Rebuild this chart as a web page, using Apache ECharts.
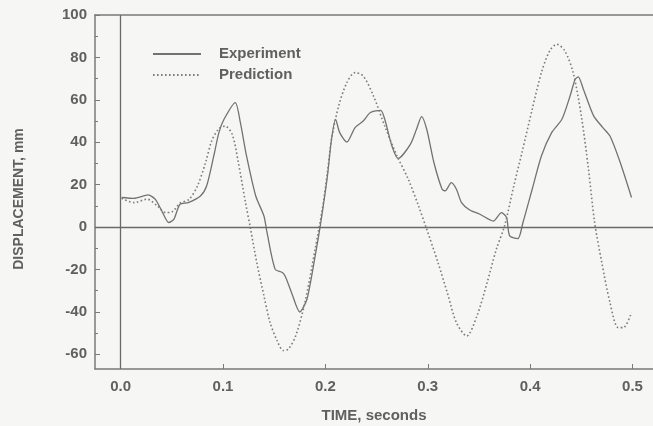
<!DOCTYPE html>
<html>
<head>
<meta charset="utf-8">
<script src="https://cdn.jsdelivr.net/npm/echarts@6/dist/echarts.min.js"></script>
<style>
html,body{margin:0;padding:0;background:#f6f6f4;}
#c{width:653px;height:426px;}
</style>
</head>
<body>
<div id="c"></div>
<script>
// Experiment (solid)
var expT = [0.001,0.013,0.027,0.034,0.041,0.047,0.052,0.058,0.066,0.078,0.084,0.091,0.096,0.101,0.112,0.117,0.123,0.132,0.140,0.143,0.151,0.158,0.161,0.167,0.175,0.182,0.190,0.195,0.202,0.206,0.210,0.214,0.221,0.229,0.237,0.244,0.254,0.258,0.265,0.271,0.283,0.289,0.294,0.299,0.306,0.314,0.317,0.323,0.328,0.333,0.341,0.351,0.364,0.372,0.377,0.380,0.388,0.393,0.402,0.411,0.421,0.431,0.439,0.444,0.447,0.452,0.462,0.471,0.478,0.488,0.499];
var expV = [13.9,13.5,15.1,13,6.8,2.1,3.6,10.7,11.5,14.6,19.3,33.5,44.5,50.8,58.7,49.2,33.5,14.6,5.2,-2.6,-20,-21.5,-23.5,-31,-40.1,-34.1,-13.7,0.5,24,41.4,50.8,44.5,40.1,46.9,50,54,55,50.8,38.2,32.3,39,46.1,52.1,46.1,30.4,17.8,17,20.9,17.8,11.5,8,6,2.8,6.8,4.4,-4.2,-5.5,2.1,17.8,33.5,44.5,50.8,61.8,69.7,70.8,65,52.4,46.9,42.9,30.4,13.9];
// Prediction (dotted)
var predT = [0.001,0.013,0.026,0.036,0.044,0.050,0.058,0.067,0.075,0.083,0.089,0.096,0.102,0.109,0.115,0.122,0.127,0.133,0.140,0.146,0.153,0.159,0.164,0.171,0.180,0.190,0.197,0.202,0.206,0.213,0.221,0.229,0.237,0.247,0.258,0.270,0.281,0.291,0.299,0.310,0.320,0.328,0.338,0.348,0.358,0.367,0.375,0.384,0.392,0.402,0.411,0.419,0.426,0.434,0.442,0.450,0.457,0.463,0.470,0.478,0.486,0.491,0.499];
var predV = [13.5,11.5,13.1,9.9,6.8,7.1,11.2,13.1,19.3,30.4,40.6,46.4,47.6,43.7,30.4,11.5,-1.1,-16.8,-32.5,-45.1,-53.8,-58.3,-57.5,-51.4,-35.7,-10.5,8.3,25.7,41.4,57.1,68.1,72.8,71.2,61.8,47.6,33.5,22.5,9.9,-1.1,-16.8,-32.5,-45.1,-51.4,-42,-26.2,-10.5,0.5,19.3,35.1,55.5,72.8,83,86.2,83,72.8,52.4,27.2,2.1,-16.8,-35.7,-47.5,-47.5,-40.4];
var xTicks = [0,0.1,0.2,0.3,0.4,0.5];
var yTicks = [-60,-40,-20,0,20,40,60,80,100];
var yMinorTicks = [-50,-30,-10,10,30,50,70,90];
var seriesNames = ['Experiment','Prediction'];

function pairs(t,v){var r=[];for(var i=0;i<t.length;i++)r.push([t[i],v[i]]);return r;}

var axisCol = '#7a7a7a';
var txtCol = '#606060';
var fam = 'Liberation Sans, Arial, sans-serif';
var labelStyle = {color:txtCol,fontFamily:fam,fontSize:15,fontWeight:'bold'};

var chart = echarts.init(document.getElementById('c'), null, {renderer:'canvas'});
chart.setOption({
  backgroundColor:'#f6f6f4',
  animation:false,
  grid:{left:95,top:15,right:0,bottom:57,containLabel:false,outerBoundsMode:'none'},
  legend:{
    orient:'vertical', left:147, top:41, itemWidth:48, itemHeight:16, itemGap:5,
    itemStyle:{opacity:0},
    textStyle:{color:txtCol,fontFamily:fam,fontSize:15,fontWeight:'bold',lineHeight:16,padding:[0,0,0,13]},
    data:seriesNames
  },
  xAxis:[{
    type:'value', min:-0.025, max:0.52, position:'bottom',
    name:'TIME, seconds', nameLocation:'middle', nameGap:39,
    nameTextStyle:{color:txtCol,fontFamily:fam,fontSize:15,fontWeight:'bold'},
    axisLine:{show:true,onZero:false,lineStyle:{color:axisCol,width:1.5}},
    axisTick:{show:true,inside:true,length:5,customValues:xTicks,lineStyle:{color:axisCol}},
    axisLabel:Object.assign({margin:10,customValues:xTicks,formatter:function(v){return v.toFixed(1);}},labelStyle),
    splitLine:{show:false}
  },{
    type:'value', min:-0.025, max:0.52, position:'top',
    axisLine:{show:true,onZero:false,lineStyle:{color:axisCol,width:1.5}},
    axisTick:{show:false}, axisLabel:{show:false}, splitLine:{show:false}
  }],
  yAxis:[{
    type:'value', min:-67, max:100,
    name:'DISPLACEMENT, mm', nameLocation:'middle', nameGap:69, nameRotate:90,
    nameTextStyle:{color:txtCol,fontFamily:fam,fontSize:14,fontWeight:'bold',padding:[0,14,0,0]},
    axisLine:{show:true,onZero:false,lineStyle:{color:axisCol,width:1.5}},
    axisTick:{show:true,inside:true,length:5,customValues:yTicks,lineStyle:{color:axisCol}},
    axisLabel:Object.assign({margin:8,customValues:yTicks},labelStyle),
    splitLine:{show:false}
  },{
    type:'value', min:-67, max:100, position:'left',
    axisLine:{show:false,onZero:false},
    axisTick:{show:true,inside:true,length:3,customValues:yMinorTicks,lineStyle:{color:axisCol}},
    axisLabel:{show:false}, splitLine:{show:false}
  }],
  series:[{
    name:seriesNames[0], type:'line', data:pairs(expT,expV), symbol:'none', smooth:0.25,
    lineStyle:{color:'#727272',width:1.3,type:'solid'}, itemStyle:{color:'#727272'},
    markLine:{silent:true,symbol:'none',label:{show:false},
      lineStyle:{color:'#6a6a6a',width:1.3,type:'solid'},
      data:[{xAxis:0},{yAxis:0}]}
  },{
    name:seriesNames[1], type:'line', data:pairs(predT,predV), symbol:'none', smooth:0.3,
    lineStyle:{color:'#7c7c7c',width:1.6,type:[1.6,2.4]}, itemStyle:{color:'#7c7c7c'}
  }]
});
</script>
</body>
</html>
